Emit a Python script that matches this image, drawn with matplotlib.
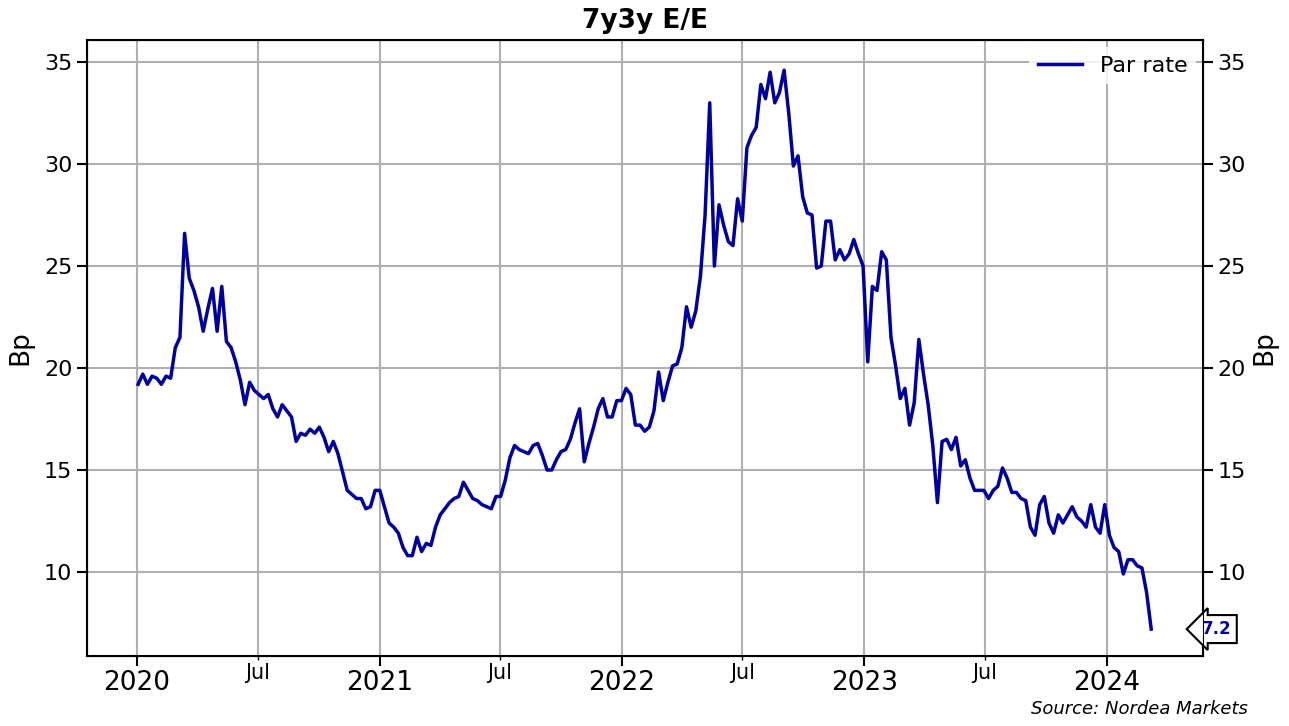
import numpy as np
import pandas as pd
import matplotlib
matplotlib.use("Agg")
import matplotlib.pyplot as plt
import matplotlib.dates as mdates
import matplotlib.transforms as mtransforms

# weekly par rate readings (bp), first Friday of 2020 onwards
par_rate = [
    19.2, 19.7, 19.2, 19.6, 19.5, 19.2, 19.6, 19.5, 21.0, 21.5,
    26.6, 24.4, 23.8, 23.0, 21.8, 22.9, 23.9, 21.8, 24.0, 21.3,
    21.0, 20.3, 19.4, 18.2, 19.3, 18.9, 18.7, 18.5, 18.7, 18.0,
    17.6, 18.2, 17.9, 17.6, 16.4, 16.8, 16.7, 17.0, 16.8, 17.1,
    16.6, 15.9, 16.4, 15.8, 14.9, 14.0, 13.8, 13.6, 13.6, 13.1,
    13.2, 14.0, 14.0, 13.2, 12.4, 12.2, 11.9, 11.2, 10.8, 10.8,
    11.7, 11.0, 11.4, 11.3, 12.2, 12.8, 13.1, 13.4, 13.6, 13.7,
    14.4, 14.0, 13.6, 13.5, 13.3, 13.2, 13.1, 13.7, 13.7, 14.5,
    15.6, 16.2, 16.0, 15.9, 15.8, 16.2, 16.3, 15.7, 15.0, 15.0,
    15.5, 15.9, 16.0, 16.5, 17.3, 18.0, 15.4, 16.3, 17.1, 18.0,
    18.5, 17.6, 17.6, 18.4, 18.4, 19.0, 18.7, 17.2, 17.2, 16.9,
    17.1, 17.9, 19.8, 18.4, 19.3, 20.1, 20.2, 21.0, 23.0, 22.0,
    22.8, 24.5, 27.5, 33.0, 25.0, 28.0, 27.0, 26.2, 26.0, 28.3,
    27.2, 30.8, 31.4, 31.8, 33.9, 33.2, 34.5, 33.0, 33.5, 34.6,
    32.5, 29.9, 30.4, 28.4, 27.6, 27.5, 24.9, 25.0, 27.2, 27.2,
    25.3, 25.8, 25.3, 25.6, 26.3, 25.6, 25.0, 20.3, 24.0, 23.8,
    25.7, 25.3, 21.5, 20.1, 18.5, 19.0, 17.2, 18.3, 21.4, 19.7,
    18.2, 16.2, 13.4, 16.4, 16.5, 16.0, 16.6, 15.2, 15.5, 14.6,
    14.0, 14.0, 14.0, 13.6, 14.0, 14.2, 15.1, 14.6, 13.9, 13.9,
    13.6, 13.5, 12.2, 11.8, 13.3, 13.7, 12.4, 11.9, 12.8, 12.4,
    12.8, 13.2, 12.7, 12.5, 12.2, 13.3, 12.2, 11.9, 13.3, 11.8,
    11.2, 11.0, 9.9, 10.6, 10.6, 10.3, 10.2, 9.0, 7.2,
]
dates = pd.date_range("2020-01-03", periods=len(par_rate), freq="W-FRI")
last_label = "7.2"

line_color = "#0000a0"

fig = plt.figure(figsize=(12.89, 7.26), dpi=100)
ax = fig.add_axes([87 / 1289, 1 - 656 / 726, 1116 / 1289, 616 / 726])

ax.plot(dates, par_rate, color=line_color, lw=2.5, label="Par rate")

ax.set_xlim(pd.Timestamp("2019-10-18"), pd.Timestamp("2024-05-25"))
ax.set_ylim(5.88, 36.08)
ax.set_yticks([10, 15, 20, 25, 30, 35])

ax.xaxis.set_major_locator(mdates.YearLocator())
ax.xaxis.set_major_formatter(mdates.DateFormatter("%Y"))
ax.xaxis.set_minor_locator(mdates.MonthLocator(bymonth=7))
ax.xaxis.set_minor_formatter(mdates.DateFormatter("%b"))
ax.tick_params(axis="x", which="major", labelsize=19, length=7, width=1.5, pad=3)
ax.tick_params(axis="x", which="minor", labelsize=15, length=3, width=1, pad=2)
ax.tick_params(axis="y", labelsize=16, length=7, width=1.5)

ax.grid(True, which="both", axis="x", color="#b0b0b0", lw=1.5)
ax.grid(True, which="major", axis="y", color="#b0b0b0", lw=1.5)
ax.set_axisbelow(True)
for s in ax.spines.values():
    s.set_linewidth(1.5)

ax.set_ylabel("Bp", fontsize=19, labelpad=8)

ax2 = ax.twinx()
ax2.set_ylim(ax.get_ylim())
ax2.set_yticks([10, 15, 20, 25, 30, 35])
ax2.tick_params(axis="y", labelsize=16, length=7, width=1.5)
ax2.set_ylabel("Bp", fontsize=19)

ax.set_title("7y3y E/E", fontsize=19, fontweight="bold", pad=9)

leg = ax.legend(loc="upper right", fontsize=16, frameon=True, framealpha=0.8,
                edgecolor="none", facecolor="white", handlelength=2.0,
                borderaxespad=0.3)
leg.set_zorder(5)

trans = mtransforms.blended_transform_factory(ax.transAxes, ax.transData)
ax.text(1.0125, par_rate[-1], last_label, transform=trans, ha="center", va="center",
        fontsize=12, fontweight="bold", color=line_color, clip_on=False,
        bbox=dict(boxstyle="larrow,pad=0.3", fc="white", ec="black", lw=1.5))

fig.text(1248 / 1289, 1 - 709 / 726, "Source: Nordea Markets", ha="right", va="center",
         fontsize=13, style="italic")

fig.savefig("out.png", dpi=100)
